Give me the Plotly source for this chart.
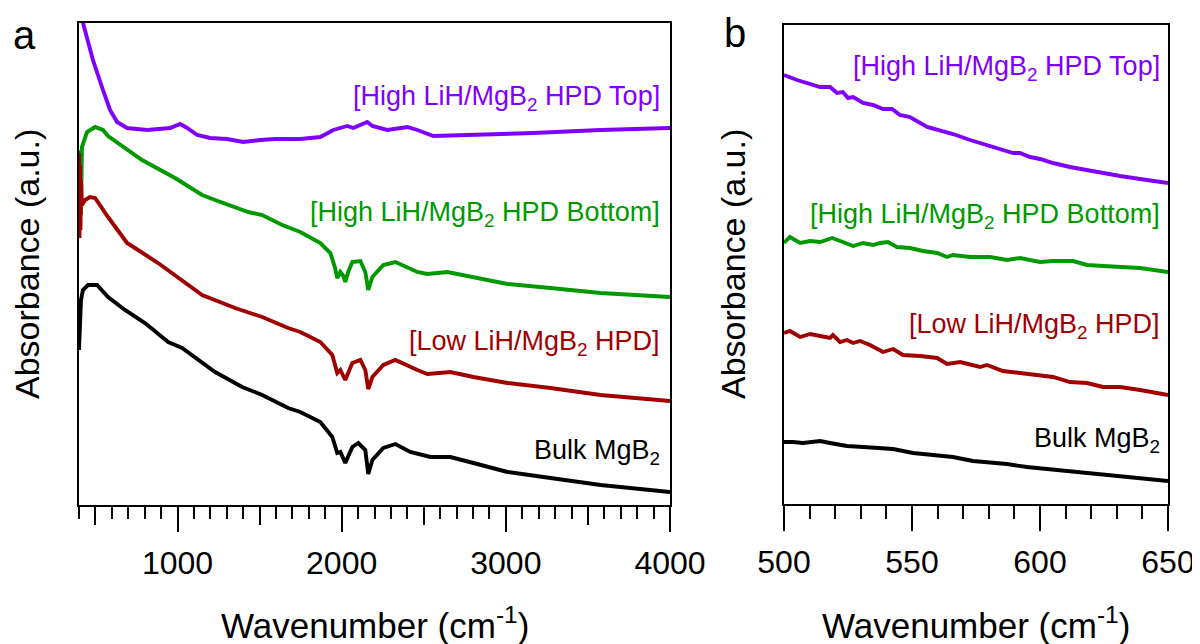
import plotly.graph_objects as go

# ---------------- Panel a data (wavenumber, absorbance a.u.) ----------------
top_a_wn = [400, 424, 449, 485, 546, 589, 632, 693, 815, 955, 1016, 1059, 1120, 1199, 1302, 1400, 1504, 1595, 1748, 1870,
            1949, 2034, 2071, 2156, 2187, 2278, 2400, 2461, 2559, 2766, 3168, 3577, 4000]
top_a_abs = [4.97, 4.82, 4.65, 4.45, 4.15, 3.95, 3.83, 3.77, 3.75, 3.77, 3.81, 3.77, 3.70, 3.67, 3.66, 3.63, 3.65, 3.66, 3.66, 3.68,
             3.75, 3.79, 3.77, 3.83, 3.79, 3.75, 3.78, 3.75, 3.69, 3.70, 3.72, 3.75, 3.77]

bot_a_wn = [400, 404, 408, 412, 418, 437, 449, 498, 546, 577, 784, 985, 1150, 1229, 1431, 1516, 1638, 1748, 1870, 1931,
            1960, 1973, 1985, 1992, 2010, 2022, 2040, 2065, 2114, 2144, 2162, 2187, 2254, 2327, 2461, 2522, 2644, 2803,
            3010, 3272, 3577, 4000]
bot_a_abs = [3.55, 2.75, 3.45, 2.90, 3.58, 3.68, 3.73, 3.78, 3.75, 3.69, 3.45, 3.27, 3.10, 3.05, 2.93, 2.90, 2.80, 2.73, 2.62, 2.52,
             2.37, 2.27, 2.31, 2.33, 2.29, 2.23, 2.33, 2.43, 2.44, 2.33, 2.15, 2.28, 2.40, 2.43, 2.33, 2.31, 2.33, 2.28,
             2.21, 2.17, 2.12, 2.08]

low_a_wn = [400, 403, 406, 409, 412, 418, 437, 467, 498, 577, 693, 882, 1028, 1150, 1351, 1516, 1674, 1748, 1870, 1943,
            1973, 1992, 2022, 2065, 2114, 2144, 2162, 2187, 2254, 2327, 2461, 2522, 2662, 2803, 3010, 3272, 3577, 4000]
low_a_abs = [3.52, 2.67, 3.40, 2.75, 3.25, 3.00, 3.05, 3.08, 3.07, 2.88, 2.62, 2.42, 2.25, 2.10, 1.97, 1.88, 1.77, 1.73, 1.63, 1.50,
             1.32, 1.35, 1.25, 1.42, 1.45, 1.35, 1.16, 1.28, 1.40, 1.45, 1.35, 1.31, 1.33, 1.28, 1.22, 1.17, 1.10, 1.04]

bulk_a_wn = [400, 406, 412, 424, 455, 510, 577, 680, 802, 943, 1028, 1229, 1394, 1516, 1674, 1748, 1870, 1943, 1973, 1992,
             2022, 2065, 2101, 2144, 2162, 2187, 2254, 2327, 2418, 2540, 2662, 2803, 3010, 3272, 3577, 4000]
bulk_a_abs = [1.55, 1.85, 2.05, 2.15, 2.20, 2.20, 2.08, 1.95, 1.82, 1.63, 1.57, 1.33, 1.18, 1.10, 0.97, 0.93, 0.83, 0.68, 0.52, 0.53,
              0.42, 0.58, 0.62, 0.55, 0.31, 0.45, 0.57, 0.61, 0.53, 0.48, 0.48, 0.42, 0.33, 0.27, 0.20, 0.13]

# ---------------- Panel b data ----------------
top_b_wn = [500, 505.1, 514.1, 518, 520.7, 523, 525, 527, 530.9, 534.8, 538.7, 542.2, 545.3, 549.2, 555.9, 560.9, 566,
            572.7, 579.3, 585.5, 589.5, 592.2, 596.1, 600, 605.1, 611.7, 618.4, 623.4, 631.3, 639.1, 650]
top_b_abs = [4.29, 4.24, 4.17, 4.17, 4.11, 4.12, 4.06, 4.07, 4.01, 3.99, 3.95, 3.95, 3.89, 3.87, 3.77, 3.74, 3.70,
             3.64, 3.59, 3.54, 3.51, 3.51, 3.47, 3.45, 3.41, 3.37, 3.34, 3.31, 3.28, 3.25, 3.21]

bot_b_wn = [500, 502.3, 506.3, 510.2, 514.1, 518.8, 523, 527, 530.9, 534.8, 537.5, 540.6, 544.1, 549.2, 554.3, 559.8,
            563.7, 566, 572.7, 580.5, 587.1, 592.2, 600, 605.1, 612.9, 618.4, 624.6, 631.3, 639.1, 650]
bot_b_abs = [2.61, 2.67, 2.61, 2.63, 2.62, 2.66, 2.62, 2.58, 2.61, 2.59, 2.61, 2.62, 2.57, 2.56, 2.53, 2.51,
             2.47, 2.49, 2.47, 2.47, 2.44, 2.46, 2.42, 2.43, 2.43, 2.39, 2.38, 2.37, 2.36, 2.32]

low_b_wn = [500, 502.3, 506.3, 510.2, 514.1, 518, 519.1, 521.9, 524.6, 527, 529.7, 533.6, 538.7, 542.6, 546.5, 553.1,
            559.8, 563.7, 568.8, 576.6, 579.3, 585.5, 592.2, 600, 605.1, 611.7, 618.4, 624.6, 631.3, 639.1, 650]
low_b_abs = [1.71, 1.73, 1.67, 1.70, 1.68, 1.66, 1.69, 1.62, 1.64, 1.61, 1.63, 1.59, 1.52, 1.55, 1.49, 1.48,
             1.46, 1.40, 1.42, 1.37, 1.39, 1.33, 1.31, 1.28, 1.27, 1.22, 1.21, 1.17, 1.17, 1.14, 1.09]

bulk_b_wn = [500, 503.5, 507.4, 514.1, 518, 524.6, 530.9, 537.5, 542.6, 550.4, 558.2, 566, 573.8, 581.6, 587.1, 594.9,
             602.7, 612.9, 620.7, 631.3, 640.2, 650]
bulk_b_abs = [0.62, 0.62, 0.61, 0.63, 0.61, 0.58, 0.57, 0.56, 0.55, 0.51, 0.49, 0.47, 0.43, 0.41, 0.40, 0.37,
              0.35, 0.33, 0.31, 0.28, 0.26, 0.23]

series_names = ["[High LiH/MgB<sub>2</sub> HPD Top]", "[High LiH/MgB<sub>2</sub> HPD Bottom]",
                "[Low LiH/MgB<sub>2</sub> HPD]", "Bulk MgB<sub>2</sub>"]
colors = ["#8000FF", "#009900", "#A00000", "#000000"]

# the page body adds an 8 px margin, so the figure is sized to the remaining viewport
OFF = 8
W, H = 1200 - OFF, 644 - OFF
FONT = "Liberation Sans, Arial, sans-serif"

def px_x(p):
    return (p - OFF) / W

def px_y(p):
    return 1 - (p - OFF) / H

fig = go.Figure()

panel_a = [(top_a_wn, top_a_abs), (bot_a_wn, bot_a_abs), (low_a_wn, low_a_abs), (bulk_a_wn, bulk_a_abs)]
panel_b = [(top_b_wn, top_b_abs), (bot_b_wn, bot_b_abs), (low_b_wn, low_b_abs), (bulk_b_wn, bulk_b_abs)]

for (xs, ys), c, n in zip(panel_a, colors, series_names):
    fig.add_trace(go.Scatter(x=xs, y=ys, mode="lines", line=dict(color=c, width=3.9),
                             name=n, xaxis="x", yaxis="y", showlegend=False))
for (xs, ys), c, n in zip(panel_b, colors, series_names):
    fig.add_trace(go.Scatter(x=xs, y=ys, mode="lines", line=dict(color=c, width=3.9),
                             name=n, xaxis="x2", yaxis="y2", showlegend=False))
# empty trace to activate the medium-tick overlay axis
fig.add_trace(go.Scatter(x=[], y=[], xaxis="x3", yaxis="y", showlegend=False, hoverinfo="skip"))

axis_line = dict(showline=True, linecolor="black", linewidth=2, mirror=True, showgrid=False, zeroline=False,
                 automargin=False)
tickfont = dict(family=FONT, size=32, color="black")

fig.update_layout(
    width=W, height=H,
    margin=dict(l=0, r=0, t=0, b=0, autoexpand=False),
    paper_bgcolor="white", plot_bgcolor="white",
    xaxis=dict(domain=[px_x(79), px_x(670)], range=[400, 4000], anchor="y",
               tickmode="array", tickvals=[1000, 2000, 3000, 4000], ticktext=["1000", "2000", "3000", "4000"],
               ticks="outside", ticklen=25, tickwidth=2, tickcolor="black", tickfont=tickfont,
               ticklabelstandoff=4,
               minor=dict(dtick=100, tick0=0, ticks="outside", ticklen=12, tickwidth=2, tickcolor="black"),
               **axis_line),
    xaxis3=dict(overlaying="x", anchor="y", side="bottom", range=[400, 4000], automargin=False,
                tickmode="array", tickvals=[500, 1500, 2500, 3500], ticks="outside", ticklen=19, tickwidth=2,
                tickcolor="black", showticklabels=False, showline=False, showgrid=False, zeroline=False),
    yaxis=dict(domain=[px_y(505), px_y(23)], range=[0, 4.82], anchor="x",
               showticklabels=False, ticks="", **axis_line),
    xaxis2=dict(domain=[px_x(784), px_x(1168)], range=[500, 650], anchor="y2",
                tickmode="linear", tick0=500, dtick=50,
                ticks="outside", ticklen=25, tickwidth=2, tickcolor="black", tickfont=tickfont,
                ticklabelstandoff=4,
                minor=dict(dtick=10, tick0=500, ticks="outside", ticklen=13, tickwidth=2, tickcolor="black"),
                **axis_line),
    yaxis2=dict(domain=[px_y(504), px_y(25)], range=[0, 4.79], anchor="x2",
                showticklabels=False, ticks="", **axis_line),
)

ann = []
label_font = 27
# panel a labels
for txt, c, yc in zip(series_names, colors, [98, 214, 343, 452]):
    ann.append(dict(text=txt, x=px_x(662), y=px_y(yc), xref="paper", yref="paper",
                    xanchor="right", yanchor="middle", showarrow=False,
                    font=dict(family=FONT, size=label_font, color=c)))
# panel b labels
for txt, c, yc in zip(series_names, colors, [68, 216, 326, 440]):
    ann.append(dict(text=txt, x=px_x(1162), y=px_y(yc), xref="paper", yref="paper",
                    xanchor="right", yanchor="middle", showarrow=False,
                    font=dict(family=FONT, size=label_font, color=c)))
# panel letters
ann.append(dict(text="a", x=px_x(24), y=px_y(35), xref="paper", yref="paper", showarrow=False,
                xanchor="center", yanchor="middle", font=dict(family=FONT, size=40, color="black")))
ann.append(dict(text="b", x=px_x(735), y=px_y(33), xref="paper", yref="paper", showarrow=False,
                xanchor="center", yanchor="middle", font=dict(family=FONT, size=40, color="black")))
# axis titles
for cx in [(79 + 670) / 2, (784 + 1168) / 2]:
    ann.append(dict(text="Wavenumber (cm<sup>-1</sup>)", x=px_x(cx), y=px_y(623), xref="paper", yref="paper",
                    showarrow=False, xanchor="center", yanchor="middle",
                    font=dict(family=FONT, size=35, color="black")))
for cx, cy in [(27, 264), (733, 264)]:
    ann.append(dict(text="Absorbance (a.u.)", x=px_x(cx), y=px_y(cy), xref="paper", yref="paper",
                    showarrow=False, xanchor="center", yanchor="middle", textangle=-90,
                    font=dict(family=FONT, size=34, color="black")))

fig.update_layout(annotations=ann)

fig.write_html("out.html")
